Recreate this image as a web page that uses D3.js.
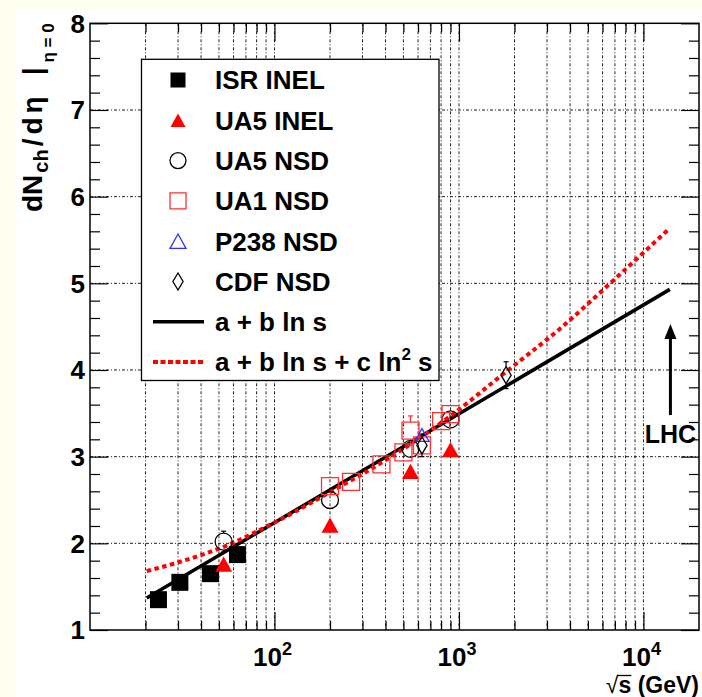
<!DOCTYPE html>
<html>
<head>
<meta charset="utf-8">
<script src="https://cdn.jsdelivr.net/npm/d3@7/dist/d3.min.js"></script>
<style>
  html, body { margin: 0; padding: 0; background: #fffff0; }
  svg { display: block; }
  text { font-family: "Liberation Sans", Arial, Helvetica, sans-serif; font-weight: bold; fill: #000; }
</style>
</head>
<body>
<svg id="chart" width="702" height="697"></svg>
<script>
// ---- measurements: charged-particle density at mid-rapidity vs sqrt(s) ----
// ISR, inelastic
const isrEnergy = [23.5, 30.7, 45, 63];
const isrValue  = [1.35, 1.55, 1.65, 1.87];

// UA5, inelastic
const ua5InelEnergy = [53, 200, 546, 900];
const ua5InelValue  = [1.76, 2.21, 2.83, 3.08];

// UA5, non-single-diffractive
const ua5NsdEnergy = [53, 200, 546, 900];
const ua5NsdValue  = [2.02, 2.50, 3.09, 3.43];
const ua5NsdError  = [0.12, 0.05, 0.05, 0.05];

// UA1, non-single-diffractive
const ua1Energy = [200, 260, 380, 500, 546, 630, 800, 900];
const ua1Value  = [2.66, 2.71, 2.91, 3.05, 3.30, 3.13, 3.41, 3.49];
const ua1Error  = [0.05, 0.05, 0.05, 0.05, 0.17, 0.05, 0.05, 0.05];

// P238, non-single-diffractive
const p238Energy = [630];
const p238Value  = [3.25];

// CDF, non-single-diffractive
const cdfEnergy = [630, 1800];
const cdfValue  = [3.13, 3.94];
const cdfError  = [0.13, 0.155];

// fitted curves, sampled along sqrt(s)
const linFitEnergy  = [20.3, 13900];
const linFitValue   = [1.37, 4.93];
const quadFitEnergy = [20.3, 30, 53, 100, 200, 400, 900, 1800, 3500, 7000, 13800];
const quadFitValue  = [1.68, 1.78, 1.96, 2.24, 2.59, 2.96, 3.47, 3.98, 4.47, 5.05, 5.63];

// LHC energy marker
const lhcEnergy = 14000;
const lhcArrowFrom = 3.48, lhcArrowTo = 4.53, lhcLabelAt = 3.16;

// axes
const xDomain = [10, 20000];
const yDomain = [1, 8];
const xLabelPowers = [2, 3, 4];
const yLabels = [1, 2, 3, 4, 5, 6, 7, 8];

const legendLabels = ["ISR INEL", "UA5 INEL", "UA5 NSD", "UA1 NSD", "P238 NSD", "CDF NSD", "a + b ln s", "a + b ln s + c ln"];

// ---- layout ----
const frame = { left: 90, top: 23.3, right: 699, bottom: 630 };
const svg = d3.select("#chart");

const x = d3.scaleLog().domain(xDomain).range([frame.left, frame.right]);
const y = d3.scaleLinear().domain(yDomain).range([frame.bottom, frame.top]);

// canvas background
svg.append("rect").attr("x", 15).attr("y", 9).attr("width", 702 - 15).attr("height", 697 - 9).attr("fill", "#ffffff");

// tick sets
const xAll = x.ticks().filter(v => v > xDomain[0] && v < xDomain[1]);
const xMajor = xAll.filter(v => Math.abs(Math.log10(v) - Math.round(Math.log10(v))) < 1e-9);
const xMinor = xAll.filter(v => !xMajor.includes(v));
const yMajor = d3.range(yDomain[0], yDomain[1] + 0.001, 1);
const yMinor = d3.range(yDomain[0], yDomain[1] + 0.001, 0.2).filter(v => Math.abs(v - Math.round(v)) > 1e-6);

// grid
const gridStyle = g => g.attr("stroke", "#222").attr("stroke-width", 1).attr("stroke-dasharray", "3,2,1,2").attr("fill", "none");
const grid = svg.append("g");
grid.selectAll("line.gx").data(xAll).join("line").attr("class", "gx")
  .attr("x1", d => x(d)).attr("x2", d => x(d)).attr("y1", frame.top).attr("y2", frame.bottom).call(gridStyle);
grid.selectAll("line.gy").data(yMajor.filter(v => v > yDomain[0] && v < yDomain[1])).join("line").attr("class", "gy")
  .attr("x1", frame.left).attr("x2", frame.right).attr("y1", d => y(d)).attr("y2", d => y(d)).call(gridStyle);

// ticks (pointing into the frame on all four sides)
function ticks(axisFn, scale, values, size, tr) {
  const g = svg.append("g").attr("transform", tr)
    .call(axisFn(scale).tickValues(values).tickSize(size).tickFormat(""));
  g.select(".domain").remove();
  g.selectAll(".tick line").attr("stroke", "#000").attr("stroke-width", 1.2);
  return g;
}
ticks(d3.axisBottom, x, xMinor, -9, `translate(0,${frame.bottom})`);
ticks(d3.axisBottom, x, xMajor, -18, `translate(0,${frame.bottom})`);
ticks(d3.axisTop, x, xMinor, -9, `translate(0,${frame.top})`);
ticks(d3.axisTop, x, xMajor, -18, `translate(0,${frame.top})`);
ticks(d3.axisLeft, y, yMinor, -10, `translate(${frame.left},0)`);
ticks(d3.axisLeft, y, yMajor, -18, `translate(${frame.left},0)`);
ticks(d3.axisRight, y, yMinor, -10, `translate(${frame.right},0)`);
ticks(d3.axisRight, y, yMajor, -18, `translate(${frame.right},0)`);

// frame
svg.append("rect").attr("x", frame.left).attr("y", frame.top)
  .attr("width", frame.right - frame.left).attr("height", frame.bottom - frame.top)
  .attr("fill", "none").attr("stroke", "#000").attr("stroke-width", 1.5);

// tick labels
svg.append("g").selectAll("text").data(yLabels).join("text")
  .attr("x", frame.left - 5).attr("y", d => y(d)).attr("dy", "0.36em")
  .attr("text-anchor", "end").attr("font-size", 26).text(d => d);

const xl = svg.append("g").selectAll("text").data(xLabelPowers).join("text")
  .attr("x", d => x(Math.pow(10, d)) - 2).attr("y", 666)
  .attr("text-anchor", "middle").attr("font-size", 26);
xl.append("tspan").text("10");
xl.append("tspan").attr("font-size", 18).attr("dy", -11).text(d => d);

// axis titles
const xtBase = 693;
const xt = svg.append("text").attr("x", frame.right).attr("y", xtBase).attr("text-anchor", "end").attr("font-size", 23);
xt.append("tspan").attr("font-weight", "normal").text("\u221A");
xt.append("tspan").text("s (GeV)");
// radical bar over the "s"
{
  const node = xt.node();
  const x0 = node.getEndPositionOfChar(0).x - 1.5;
  const x1 = node.getEndPositionOfChar(1).x;
  svg.append("line").attr("x1", x0).attr("x2", x1).attr("y1", xtBase - 17.5).attr("y2", xtBase - 17.5)
    .attr("stroke", "#000").attr("stroke-width", 1.3);
}

const yt = svg.append("text").attr("transform", `translate(42,${frame.top}) rotate(-90)`)
  .attr("text-anchor", "end").attr("font-size", 28);
yt.append("tspan").text("dN");
yt.append("tspan").attr("font-size", 20).attr("dx", 2).attr("dy", 6).text("ch");
yt.append("tspan").attr("dx", 3).attr("dy", -6).attr("letter-spacing", 4).text("/d\u03B7");
yt.append("tspan").attr("dx", 17).text("|");
yt.append("tspan").attr("font-size", 17).attr("dy", 12).attr("dx", 5).text("\u03B7 = 0");

// fitted curves
const line = d3.line().x(d => x(d[0])).y(d => y(d[1]));
svg.append("path").datum(d3.zip(linFitEnergy, linFitValue)).attr("d", line)
  .attr("fill", "none").attr("stroke", "#000").attr("stroke-width", 3.5);
svg.append("path").datum(d3.zip(quadFitEnergy, quadFitValue)).attr("d", line.curve(d3.curveMonotoneX))
  .attr("fill", "none").attr("stroke", "#ff0000").attr("stroke-width", 4).attr("stroke-dasharray", "4.5,3.5");

// marker shapes, centred on their bounding box
const shapes = {
  fsquare:  s => `M${-s/2},${-s/2}h${s}v${s}h${-s}Z`,
  osquare:  s => `M${-s/2},${-s/2}h${s}v${s}h${-s}Z`,
  ftri:     s => `M0,${-s*0.45}L${s/2},${s*0.45}L${-s/2},${s*0.45}Z`,
  otri:     s => `M0,${-s*0.45}L${s/2},${s*0.45}L${-s/2},${s*0.45}Z`,
  circle:   s => `M${s/2},0A${s/2},${s/2} 0 1,1 ${-s/2},0A${s/2},${s/2} 0 1,1 ${s/2},0Z`,
  diamond:  s => `M0,${-s/2}L${s*0.3},0L0,${s/2}L${-s*0.3},0Z`
};

function errorBars(energy, value, err, half, color) {
  const g = svg.append("g").attr("stroke", color).attr("stroke-width", 1.2);
  energy.forEach((e, i) => {
    const cx = x(e), top = y(value[i] + err[i]), bot = y(value[i] - err[i]), cy = y(value[i]);
    if (cy - half > top) {
      g.append("line").attr("x1", cx).attr("x2", cx).attr("y1", top).attr("y2", cy - half);
      g.append("line").attr("x1", cx - 2.5).attr("x2", cx + 2.5).attr("y1", top).attr("y2", top);
    }
    if (bot > cy + half) {
      g.append("line").attr("x1", cx).attr("x2", cx).attr("y1", cy + half).attr("y2", bot);
      g.append("line").attr("x1", cx - 2.5).attr("x2", cx + 2.5).attr("y1", bot).attr("y2", bot);
    }
  });
}

function markers(energy, value, shape, size, fill, stroke) {
  svg.append("g").selectAll("path").data(d3.zip(energy, value)).join("path")
    .attr("transform", d => `translate(${x(d[0])},${y(d[1])})`)
    .attr("d", shapes[shape](size))
    .attr("fill", fill).attr("stroke", stroke).attr("stroke-width", stroke === "none" ? 0 : 1.3);
}

errorBars(ua5NsdEnergy, ua5NsdValue, ua5NsdError, 8.5, "#000");
errorBars(ua1Energy, ua1Value, ua1Error, 8.5, "#ff3030");
errorBars(cdfEnergy, cdfValue, cdfError, 8.5, "#000");

markers(isrEnergy, isrValue, "fsquare", 17, "#000", "none");
markers(ua5InelEnergy, ua5InelValue, "ftri", 17, "#ff0000", "none");
markers(ua5NsdEnergy, ua5NsdValue, "circle", 17, "none", "#000");
markers(ua1Energy, ua1Value, "osquare", 17, "none", "#ff3030");
markers(p238Energy, p238Value, "otri", 14, "none", "#3030ff");
markers(cdfEnergy, cdfValue, "diamond", 17, "none", "#000");

// LHC arrow
const ax = x(lhcEnergy);
svg.append("line").attr("x1", ax).attr("x2", ax).attr("y1", y(lhcArrowFrom)).attr("y2", y(lhcArrowTo) + 12)
  .attr("stroke", "#000").attr("stroke-width", 3);
svg.append("path").attr("d", `M${ax},${y(lhcArrowTo)}L${ax + 6},${y(lhcArrowTo) + 15}L${ax - 6},${y(lhcArrowTo) + 15}Z`)
  .attr("fill", "#000");
svg.append("text").attr("x", ax).attr("y", y(lhcLabelAt)).attr("text-anchor", "middle").attr("font-size", 25).text("LHC");

// legend
const lg = svg.append("g");
lg.append("rect").attr("x", 141.5).attr("y", 59.3).attr("width", 297.5).attr("height", 321.2)
  .attr("fill", "#fff").attr("stroke", "#000").attr("stroke-width", 1.3);
const rowY = i => 80 + i * 40.3;
const legendMarks = [
  ["fsquare", 15, "#000", "none"], ["ftri", 15, "#ff0000", "none"], ["circle", 16, "none", "#000"],
  ["osquare", 16, "none", "#ff3030"], ["otri", 16, "none", "#3030ff"], ["diamond", 17, "none", "#000"]
];
legendMarks.forEach((m, i) => {
  lg.append("path").attr("transform", `translate(178,${rowY(i)})`).attr("d", shapes[m[0]](m[1]))
    .attr("fill", m[2]).attr("stroke", m[3]).attr("stroke-width", m[3] === "none" ? 0 : 1.3);
});
lg.append("line").attr("x1", 153).attr("x2", 204).attr("y1", rowY(6)).attr("y2", rowY(6))
  .attr("stroke", "#000").attr("stroke-width", 3.5);
lg.append("line").attr("x1", 153).attr("x2", 204).attr("y1", rowY(7)).attr("y2", rowY(7))
  .attr("stroke", "#ff0000").attr("stroke-width", 4).attr("stroke-dasharray", "5,2.5");
const lt = lg.selectAll("text").data(legendLabels).join("text")
  .attr("x", 215).attr("y", (d, i) => rowY(i)).attr("dy", "0.36em").attr("font-size", 26);
lt.append("tspan").text(d => d);
lt.filter((d, i) => i === 7).append("tspan").attr("font-size", 17).attr("dy", -11).text("2");
lt.filter((d, i) => i === 7).append("tspan").attr("dy", 11).text(" s");
</script>
</body>
</html>
